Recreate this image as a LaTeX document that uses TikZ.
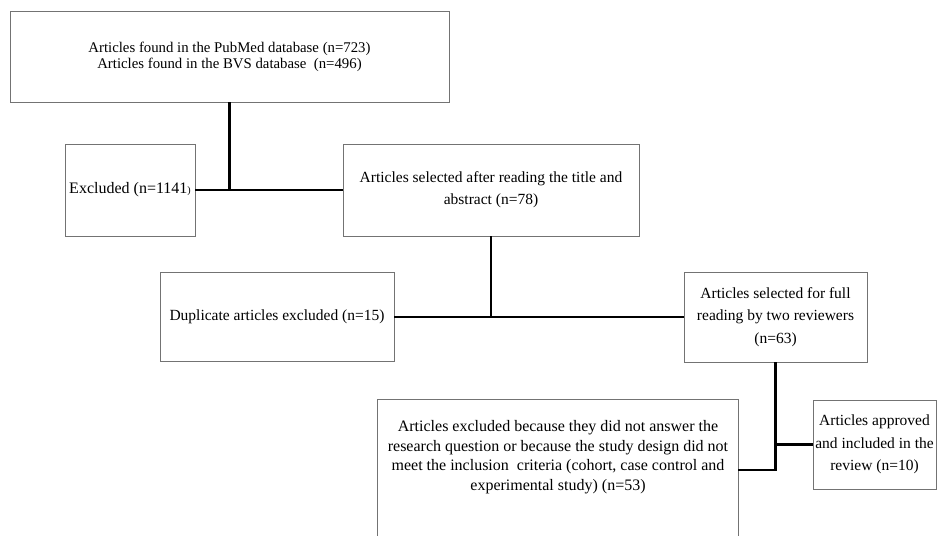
\documentclass[tikz,border=0pt]{standalone}
\usepackage{fontspec}
\setmainfont{Liberation Serif}
\begin{document}
\begin{tikzpicture}[x=1pt, y=-1pt, box/.style = {draw=black!55, line width=0.8pt, align=center, inner sep=0pt, font=\fontsize{15.5}{22}\selectfont}, link/.style = {line width=2.6pt}]
    \useasboundingbox (0,0) rectangle (938,536);
    \node[box, minimum width=439pt, minimum height=91pt, font=\fontsize{14.8}{15.8}\selectfont] (found) at (229.5,56.5) {Articles found in the PubMed database (n=723)\\Articles found in the BVS database ~(n=496)};
    \node[box, minimum width=130pt, minimum height=92pt, font=\fontsize{16}{16}\selectfont] (excl) at (130,190) {Excluded (n=1141{\fontsize{10}{10}\selectfont )}};
    \node[box, minimum width=296pt, minimum height=92pt] (title) at (491,190) {Articles selected after reading the title and\\abstract (n=78)};
    \node[box, minimum width=234pt, minimum height=89pt] (dup) at (277,317) {Duplicate articles excluded (n=15)};
    \node[box, minimum width=183pt, minimum height=90pt, font=\fontsize{15.5}{22.5}\selectfont] (full) at (775.5,317) {Articles selected for full\\reading by two reviewers\\(n=63)};
    \node[box, draw=none, minimum width=360pt, minimum height=114pt, font=\fontsize{16}{19.5}\selectfont] (notmet) at (558,457) {Articles excluded because they did not answer the\\research question or because the study design did not\\meet the inclusion ~criteria (cohort, case control and\\experimental study) (n=53)};
    \node[box, minimum width=123pt, minimum height=89pt, font=\fontsize{15.5}{22.5}\selectfont] (incl) at (874.5,444.5) {Articles approved\\and included in the\\review (n=10)};
    \draw[draw=black!55, line width=0.8pt] ([yshift=-22pt]notmet.south west) -- (notmet.north west) -- (notmet.north east) -- ([yshift=-22pt]notmet.south east);
    \draw[link] (found.south) -- (found.south |- excl.east);
    \draw[link] (excl.east) -- (title.west);
    \draw[link] (title.south) -- (title.south |- dup.east);
    \draw[link] (dup.east) -- (full.west);
    \draw[link] (full.south) |- ([yshift=-13pt]notmet.east);
    \draw[link] (incl.west) -- (incl.west -| full.south);
\end{tikzpicture}
\end{document}
